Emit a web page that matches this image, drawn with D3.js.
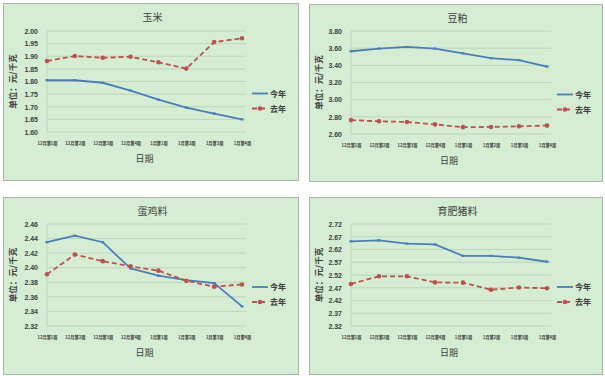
<!DOCTYPE html>
<html><head><meta charset="utf-8">
<script src="https://cdn.jsdelivr.net/npm/d3@7"></script>
<style>
body{margin:0;background:#fff;}
text{font-family:"Noto Sans CJK SC","DejaVu Sans",sans-serif;fill:#404040;}
</style></head>
<body><svg id="c" width="605" height="376"></svg>
<script>
const categories = ["12月第1周","12月第2周","12月第3周","12月第4周","1月第1周","1月第2周","1月第3周","1月第4周"];
const seriesNames = ["今年","去年"];
const titles = ["玉米","豆粕","蛋鸡料","育肥猪料"];
const yTitle = "单位：元/千克";
const xTitle = "日期";

const cornThis = [1.805,1.805,1.795,1.764,1.728,1.697,1.673,1.650];
const cornLast = [1.881,1.901,1.894,1.898,1.876,1.851,1.956,1.971];
const soyThis  = [3.564,3.595,3.614,3.595,3.540,3.483,3.460,3.386];
const soyLast  = [2.762,2.748,2.740,2.712,2.680,2.682,2.690,2.698];
const eggThis  = [2.435,2.444,2.435,2.399,2.389,2.383,2.379,2.347];
const eggLast  = [2.391,2.418,2.409,2.402,2.396,2.382,2.374,2.377];
const pigThis  = [2.652,2.656,2.643,2.640,2.595,2.595,2.588,2.572];
const pigLast  = [2.485,2.515,2.515,2.491,2.490,2.462,2.471,2.468];

const cornTicks = [1.60,1.65,1.70,1.75,1.80,1.85,1.90,1.95,2.00];
const soyTicks  = [2.60,2.80,3.00,3.20,3.40,3.60,3.80];
const eggTicks  = [2.32,2.34,2.36,2.38,2.40,2.42,2.44,2.46];
const pigTicks  = [2.32,2.37,2.42,2.47,2.52,2.57,2.62,2.67,2.72];

const panels = [
  {title:titles[0], a:cornThis, b:cornLast, ticks:cornTicks, box:[3,3,295,177], plot:[47,31,242,132]},
  {title:titles[1], a:soyThis,  b:soyLast,  ticks:soyTicks,  box:[309,4,293,177], plot:[351,31,547,134]},
  {title:titles[2], a:eggThis,  b:eggLast,  ticks:eggTicks,  box:[3,197,295,177], plot:[47,224,242,326]},
  {title:titles[3], a:pigThis,  b:pigLast,  ticks:pigTicks,  box:[309,197,293,177], plot:[351,224,547,326]}
];

const svg = d3.select("#c");
const blue = "#4a7ebb", red = "#c0504d";

panels.forEach(p => {
  const g = svg.append("g");
  const [bx,by,bw,bh] = p.box;
  g.append("rect").attr("x",bx+0.5).attr("y",by+0.5).attr("width",bw).attr("height",bh)
    .attr("fill","#d5edd3").attr("stroke","#a6b8a4").attr("stroke-width",1);
  const [x0,y0,x1,y1] = p.plot;
  const x = d3.scalePoint().domain(categories).range([x0,x1]);
  const y = d3.scaleLinear().domain([p.ticks[0], p.ticks[p.ticks.length-1]]).range([y1,y0]);
  g.append("g").selectAll("line").data(p.ticks).join("line")
    .attr("x1",x0).attr("x2",x1+4).attr("y1",d=>y(d)).attr("y2",d=>y(d))
    .attr("stroke","#b8cfb6").attr("stroke-width",0.8);
  g.append("line").attr("x1",x0).attr("x2",x0).attr("y1",y0).attr("y2",y1)
    .attr("stroke","#b8cfb6").attr("stroke-width",0.8);
  const ya = d3.axisLeft(y).tickValues(p.ticks).tickFormat(d3.format(".2f")).tickSize(0).tickPadding(9);
  const yg = g.append("g").attr("transform",`translate(${x0},0)`).call(ya);
  yg.select(".domain").remove();
  yg.selectAll("text").style("font-size","7px").style("font-weight","bold").attr("fill","#404040")
    .style("font-family","'Liberation Sans',Arial,sans-serif");
  const xa = d3.axisBottom(x).tickSize(0).tickPadding(0);
  const xg = g.append("g").attr("transform",`translate(0,${y1+10})`).call(xa);
  xg.select(".domain").remove();
  xg.selectAll("text").style("font-size","4.2px").style("font-weight","bold").attr("fill","#505050");
  g.append("text").attr("x",bx+bw/2+2).attr("y",by+18).attr("text-anchor","middle")
    .style("font-size","10px").text(p.title);
  g.append("text").attr("x",(x0+x1)/2).attr("y",y1+30).attr("text-anchor","middle")
    .style("font-size","9px").text(xTitle);
  g.append("text").attr("transform",`translate(${bx+13},${(y0+y1)/2}) rotate(-90)`)
    .attr("text-anchor","middle").style("font-size","8.5px").style("font-weight","bold").text(yTitle);
  const line = d3.line().x((d,i)=>x(categories[i])).y(d=>y(d));
  g.append("path").datum(p.a).attr("d",line).attr("fill","none").attr("stroke",blue).attr("stroke-width",1.8);
  g.append("g").selectAll("line").data(p.a).join("line")
    .attr("x1",(d,i)=>x(categories[i])-1.5).attr("x2",(d,i)=>x(categories[i])+1.5)
    .attr("y1",d=>y(d)).attr("y2",d=>y(d)).attr("stroke",blue).attr("stroke-width",2.2);
  g.append("path").datum(p.b).attr("d",line).attr("fill","none").attr("stroke",red).attr("stroke-width",1.8)
    .attr("stroke-dasharray","5,3");
  g.append("g").selectAll("circle").data(p.b).join("circle")
    .attr("cx",(d,i)=>x(categories[i])).attr("cy",d=>y(d)).attr("r",2.3).attr("fill",red);
  const lx = x1+10, ly = (y0+y1)/2 + 12;
  [[blue,null,seriesNames[0]],[red,"5,3",seriesNames[1]]].forEach((s,i)=>{
    const yy = ly + i*15;
    g.append("line").attr("x1",lx).attr("x2",lx+16).attr("y1",yy).attr("y2",yy)
      .attr("stroke",s[0]).attr("stroke-width",1.8).attr("stroke-dasharray",s[1]);
    if(i===1) g.append("circle").attr("cx",lx+8).attr("cy",yy).attr("r",2.3).attr("fill",red);
    g.append("text").attr("x",lx+18).attr("y",yy+3).style("font-size","8px").style("font-weight","bold").text(s[2]);
  });
});
</script></body></html>
